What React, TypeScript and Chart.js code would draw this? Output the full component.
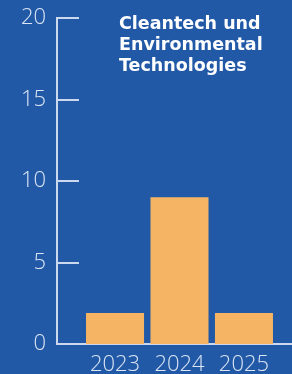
import React, { useEffect, useRef } from "react";
import { Chart, registerables } from "chart.js";

Chart.register(...registerables);

const YEARS = [2023, 2024, 2025];
const VALUES = [1.9, 9, 1.9];
const Y_TICKS = [0, 5, 10, 15, 20];
const TITLE_LINES = ["Cleantech und", "Environmental", "Technologies"];

const BG = "#2159a7";
const BAR = "#f4b464";
const AXIS = "#cbd8ee";
const LABEL = "#dbe5f4";

const W = 292;
const H = 392;

const innerTicks = {
  id: "innerTicks",
  afterDraw(chart: any) {
    const y = chart.scales.y;
    const ctx = chart.ctx;
    const left = chart.chartArea.left;
    ctx.save();
    ctx.strokeStyle = AXIS;
    ctx.lineWidth = 2;
    Y_TICKS.forEach((v) => {
      const py = Math.round(y.getPixelForValue(v));
      ctx.beginPath();
      ctx.moveTo(left, py);
      ctx.lineTo(left + 22, py);
      ctx.stroke();
    });
    ctx.restore();
  },
};

export default function App() {
  const ref = useRef<HTMLCanvasElement>(null);
  useEffect(() => {
    if (!ref.current) return;
    const chart = new Chart(ref.current, {
      type: "bar",
      data: {
        datasets: [
          {
            data: YEARS.map((yr, i) => ({ x: yr, y: VALUES[i] })),
            backgroundColor: BAR,
            borderWidth: 0,
            barPercentage: 0.9,
            categoryPercentage: 1,
          },
        ],
      },
      options: {
        responsive: false,
        animation: false,
        layout: { padding: { top: 18, right: 0, bottom: 0, left: 0 } },
        plugins: { legend: { display: false }, tooltip: { enabled: false }, title: { display: false } },
        scales: {
          x: {
            type: "linear",
            offset: false,
            min: 2022.1,
            max: 2025.745,
            z: 1,
            afterFit: (s: any) => {
              s.height = H - 344;
              s.paddingLeft = 0;
              s.paddingRight = 0;
            },
            afterBuildTicks: (s: any) => {
              s.ticks = YEARS.map((v) => ({ value: v }));
            },
            grid: { display: false, drawTicks: false, offset: false },
            border: { display: true, color: AXIS, width: 2 },
            ticks: {
              padding: 8,
              color: LABEL,
              font: { family: "'Open Sans'", size: 22, weight: "300" as any },
              callback: (v: any) => String(v),
              maxRotation: 0,
            },
          },
          y: {
            min: 0,
            max: 20,
            z: 1,
            afterFit: (s: any) => {
              s.width = 57;
              s.paddingTop = 0;
              s.paddingBottom = 0;
            },
            afterBuildTicks: (s: any) => {
              s.ticks = Y_TICKS.map((v) => ({ value: v }));
            },
            grid: { display: false, drawTicks: false },
            border: { display: true, color: AXIS, width: 2 },
            ticks: {
              padding: 11,
              color: LABEL,
              font: { family: "'Open Sans'", size: 22, weight: "300" as any },
              callback: (v: any) => String(v),
            },
          },
        },
      },
      plugins: [innerTicks],
    });
    return () => chart.destroy();
  }, []);

  return (
    <div
      style={{
        position: "fixed",
        left: 0,
        top: 0,
        width: W,
        height: 374,
        background: BG,
        overflow: "hidden",
      }}
    >
      <canvas ref={ref} width={W} height={H} style={{ display: "block", width: W, height: H }} />
      <div
        style={{
          position: "absolute",
          left: 119,
          top: 12.5,
          color: "#ffffff",
          fontFamily: "'DejaVu Sans', sans-serif",
          fontWeight: 700,
          fontSize: 17.5,
          lineHeight: "21px",
          whiteSpace: "nowrap",
        }}
      >
        {TITLE_LINES.map((t) => (
          <div key={t}>{t}</div>
        ))}
      </div>
    </div>
  );
}
